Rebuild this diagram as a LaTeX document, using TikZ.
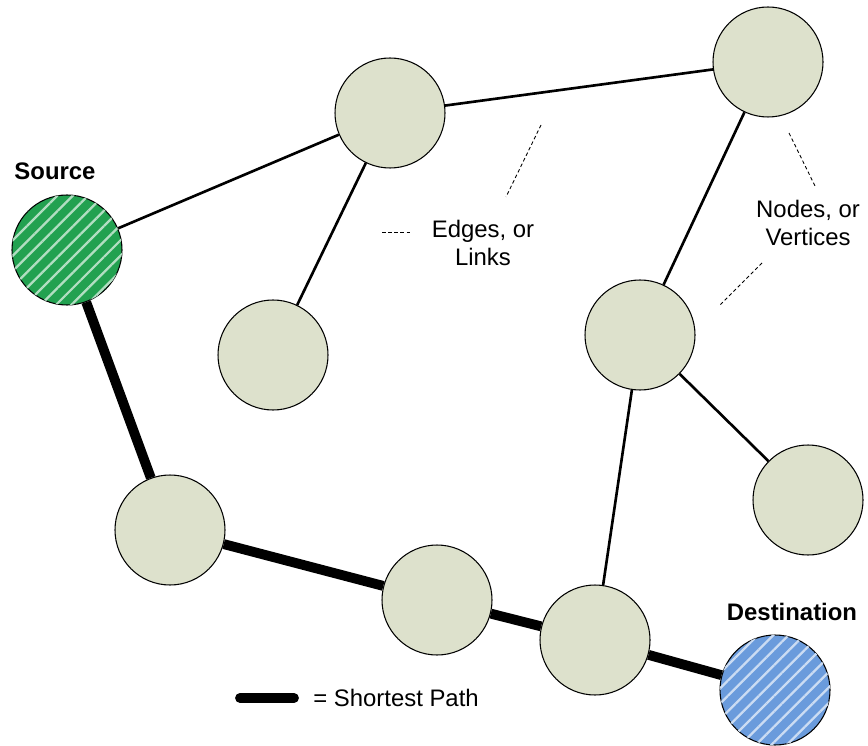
\documentclass[tikz,border=0pt]{standalone}
\usepackage{fontspec}
\setmainfont{Liberation Sans}
\usetikzlibrary{patterns.meta}
\definecolor{nodefill}{HTML}{DDE1CC}
\definecolor{srcgreen}{HTML}{22A150}
\definecolor{dstblue}{HTML}{6A9BDC}
\begin{document}
\begin{tikzpicture}[x=0.02cm,y=-0.02cm,
  vert/.style={circle,draw=black,line width=0.6pt,fill=nodefill,minimum size=110*0.02cm,inner sep=0pt},
  srcnode/.style={vert,fill=srcgreen,postaction={pattern={Lines[angle=45,distance=6.2pt,line width=1.3pt]},pattern color=white!65!srcgreen}},
  dstnode/.style={vert,fill=dstblue,postaction={pattern={Lines[angle=45,distance=6.2pt,line width=1.3pt]},pattern color=white!65!dstblue}},
  edge/.style={line width=1.5pt},
  spath/.style={line width=5.6pt},
  callout/.style={line width=0.5pt,dash pattern=on 2pt off 1.5pt},
  lbl/.style={font=\fontsize{13.6}{15.5}\selectfont,align=center,inner sep=0pt},
  blbl/.style={font=\fontsize{13.6}{15.5}\selectfont\bfseries,inner sep=0pt}]
\useasboundingbox (0,0) rectangle (868,746);
% nodes
\node[srcnode] (S) at (67,250) {};
\node[vert] (A) at (390,113) {};
\node[vert] (B) at (768,62) {};
\node[vert] (C) at (273,355) {};
\node[vert] (D) at (640,335) {};
\node[vert] (E) at (808,500) {};
\node[vert] (F) at (170,530) {};
\node[vert] (G) at (437,600) {};
\node[vert] (H) at (595,640) {};
\node[dstnode] (T) at (775,690) {};
% edges
\draw[edge] (S) -- (A);
\draw[edge] (A) -- (B);
\draw[edge] (A) -- (C);
\draw[edge] (B) -- (D);
\draw[edge] (D) -- (E);
\draw[edge] (D) -- (H);
\draw[spath] (S) -- (F);
\draw[spath] (F) -- (G);
\draw[spath] (G) -- (H);
\draw[spath] (H) -- (T);
% labels
\node[blbl] (srclbl) at (55,171) {Source};
\node[blbl] (dstlbl) at (792,612) {Destination};
\node[lbl] (edgelbl) at (483,243) {Edges, or\\Links};
\node[lbl] (nodelbl) at (808,223) {Nodes, or\\Vertices};
% callouts
\coordinate (c1a) at (382,232); \coordinate (c1b) at (412,232);
\coordinate (c2a) at (541,125); \coordinate (c2b) at (506,197);
\coordinate (c3a) at (789,133); \coordinate (c3b) at (815,186);
\coordinate (c4a) at (762,263); \coordinate (c4b) at (720,305);
\draw[callout] (c1a) -- (c1b);
\draw[callout] (c2a) -- (c2b);
\draw[callout] (c3a) -- (c3b);
\draw[callout] (c4a) -- (c4b);
% legend
\coordinate (lg1) at (240,698); \coordinate (lg2) at (294,698);
\draw[spath,line cap=round] (lg1) -- (lg2);
\node[lbl,anchor=west] (lgtxt) at (313,698) {= Shortest Path};
\end{tikzpicture}
\end{document}
